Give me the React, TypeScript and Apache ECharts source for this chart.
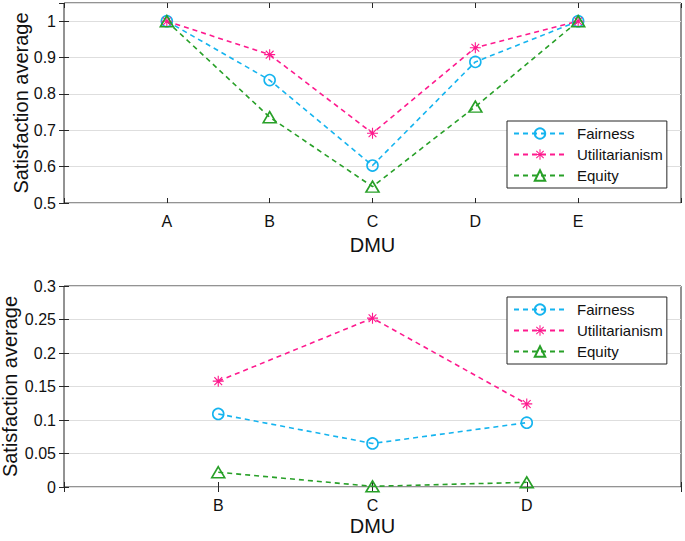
import React, { useEffect, useRef } from "react";
import * as echarts from "echarts";

const topCategories = ["A", "B", "C", "D", "E"];
const topFairness = [1, 0.838, 0.603, 0.888, 1];
const topUtilitarianism = [1, 0.908, 0.692, 0.927, 1];
const topEquity = [1, 0.736, 0.545, 0.765, 1];

const bottomCategories = ["B", "C", "D"];
const bottomFairness = [0.109, 0.065, 0.096];
const bottomUtilitarianism = [0.158, 0.252, 0.124];
const bottomEquity = [0.022, 0.001, 0.007];

const seriesNames = ["Fairness", "Utilitarianism", "Equity"];

const C_FAIR = "#15b4ef";
const C_UTIL = "#fe1a8e";
const C_EQ = "#28a028";
const AXIS = "#262626";
const FONT = "'Liberation Sans', Arial, Helvetica, sans-serif";

const STAR =
  "path://M0 9L20 9L20 11L0 11ZM9 0L11 0L11 20L9 20ZM2.22 3.64L3.64 2.22L17.78 16.36L16.36 17.78ZM16.36 2.22L17.78 3.64L3.64 17.78L2.22 16.36Z";

function toPoints(values: number[], offset: number) {
  return values.map((v, i) => [i + offset, v]);
}

function makeSeries(
  name: string,
  data: number[][],
  color: string,
  kind: "circle" | "star" | "triangle",
  axisIndex: number
) {
  const base: any = {
    type: "line",
    name,
    data,
    xAxisIndex: axisIndex,
    yAxisIndex: axisIndex,
    lineStyle: { color, width: 1.6, type: [5, 4] },
    emphasis: { disabled: true },
    z: 3,
  };
  if (kind === "circle") {
    base.symbol = "circle";
    base.symbolSize = 11;
    base.itemStyle = { color: "rgba(255,255,255,0)", borderColor: color, borderWidth: 1.6 };
  } else if (kind === "star") {
    base.symbol = STAR;
    base.symbolSize = 11;
    base.itemStyle = { color, borderWidth: 0 };
  } else {
    base.symbol = "triangle";
    base.symbolSize = [13, 11];
    base.itemStyle = { color: "rgba(255,255,255,0)", borderColor: color, borderWidth: 1.6 };
  }
  return base;
}

function xAxes(gridIndex: number, cats: string[], max: number, offset: number) {
  const fmt = (v: number) => {
    const idx = Math.round(v) - offset;
    return idx >= 0 && idx < cats.length ? cats[idx] : "";
  };
  return [
    {
      type: "value",
      gridIndex,
      min: 0,
      max,
      interval: 1,
      position: "bottom",
      name: "DMU",
      nameLocation: "middle",
      nameGap: gridIndex === 0 ? 32 : 29,
      nameMoveOverlap: false,
      nameTextStyle: { fontSize: 20, color: "#111", fontFamily: FONT },
      axisLine: { show: false },
      axisTick: { show: true, inside: true, length: 5, lineStyle: { color: AXIS } },
      axisLabel: { formatter: fmt, fontSize: 16, color: "#111", fontFamily: FONT, margin: 10 },
      splitLine: { show: false },
    },
    {
      type: "value",
      gridIndex,
      min: 0,
      max,
      interval: 1,
      position: "top",
      axisLine: { show: false },
      axisTick: { show: true, inside: true, length: 5, lineStyle: { color: AXIS } },
      axisLabel: { show: false },
      splitLine: { show: false },
    },
  ];
}

function yAxes(gridIndex: number, min: number, max: number, interval: number, nameGap: number, showMax: boolean) {
  return [
    {
      type: "value",
      gridIndex,
      min,
      max,
      interval,
      position: "left",
      name: "Satisfaction average",
      nameLocation: "middle",
      nameGap,
      nameMoveOverlap: false,
      nameTextStyle: { fontSize: 20, color: "#111", fontFamily: FONT },
      axisLine: { show: false },
      axisTick: { show: true, inside: true, length: 5, lineStyle: { color: AXIS } },
      axisLabel: { fontSize: 16, color: "#111", fontFamily: FONT, margin: 8, showMaxLabel: showMax },
      splitLine: { show: true, lineStyle: { color: "#dedede", width: 1 } },
    },
    {
      type: "value",
      gridIndex,
      min,
      max,
      interval,
      position: "right",
      axisLine: { show: false },
      axisTick: { show: true, inside: true, length: 5, lineStyle: { color: AXIS } },
      axisLabel: { show: false },
      splitLine: { show: false },
    },
  ];
}

function legend(top: number) {
  return {
    orient: "vertical",
    left: 507,
    top,
    data: seriesNames,
    backgroundColor: "#fff",
    borderColor: AXIS,
    borderWidth: 1,
    borderRadius: 0,
    padding: [5, 4, 5, 6],
    itemWidth: 52,
    itemHeight: 13,
    itemGap: 6,
    selectedMode: false,
    textStyle: { fontSize: 15, color: "#111", fontFamily: FONT, lineHeight: 14, padding: [0, 0, 0, 6] },
  };
}

export default function App() {
  const ref = useRef<HTMLDivElement>(null);
  useEffect(() => {
    if (!ref.current) return;
    const chart = echarts.init(ref.current, undefined, { renderer: "svg" });
    const xs0 = xAxes(0, topCategories, 6, 1);
    const xs1 = xAxes(1, bottomCategories, 4, 1);
    const ys0 = yAxes(0, 0.5, 1.05, 0.1, 33, false);
    const ys1 = yAxes(1, 0, 0.3, 0.05, 44, true);
    chart.setOption({
      animation: false,
      backgroundColor: "#fff",
      grid: [
        { left: 64, right: 4, top: 3, height: 200, show: true, borderColor: AXIS, borderWidth: 1, backgroundColor: "transparent", outerBoundsMode: "none", containLabel: false },
        { left: 64, right: 4, top: 286, height: 201, show: true, borderColor: AXIS, borderWidth: 1, backgroundColor: "transparent", outerBoundsMode: "none", containLabel: false },
      ],
      xAxis: [xs0[0], xs1[0], xs0[1], xs1[1]],
      yAxis: [ys0[0], ys1[0], ys0[1], ys1[1]],
      legend: [legend(121), legend(297)],
      series: [
        makeSeries("Fairness", toPoints(topFairness, 1), C_FAIR, "circle", 0),
        makeSeries("Utilitarianism", toPoints(topUtilitarianism, 1), C_UTIL, "star", 0),
        makeSeries("Equity", toPoints(topEquity, 1), C_EQ, "triangle", 0),
        makeSeries("Fairness", toPoints(bottomFairness, 1), C_FAIR, "circle", 1),
        makeSeries("Utilitarianism", toPoints(bottomUtilitarianism, 1), C_UTIL, "star", 1),
        makeSeries("Equity", toPoints(bottomEquity, 1), C_EQ, "triangle", 1),
      ],
    });
    return () => chart.dispose();
  }, []);
  return (
    <div
      ref={ref}
      style={{ position: "absolute", left: 0, top: 0, width: 685, height: 541, background: "#fff" }}
    />
  );
}
